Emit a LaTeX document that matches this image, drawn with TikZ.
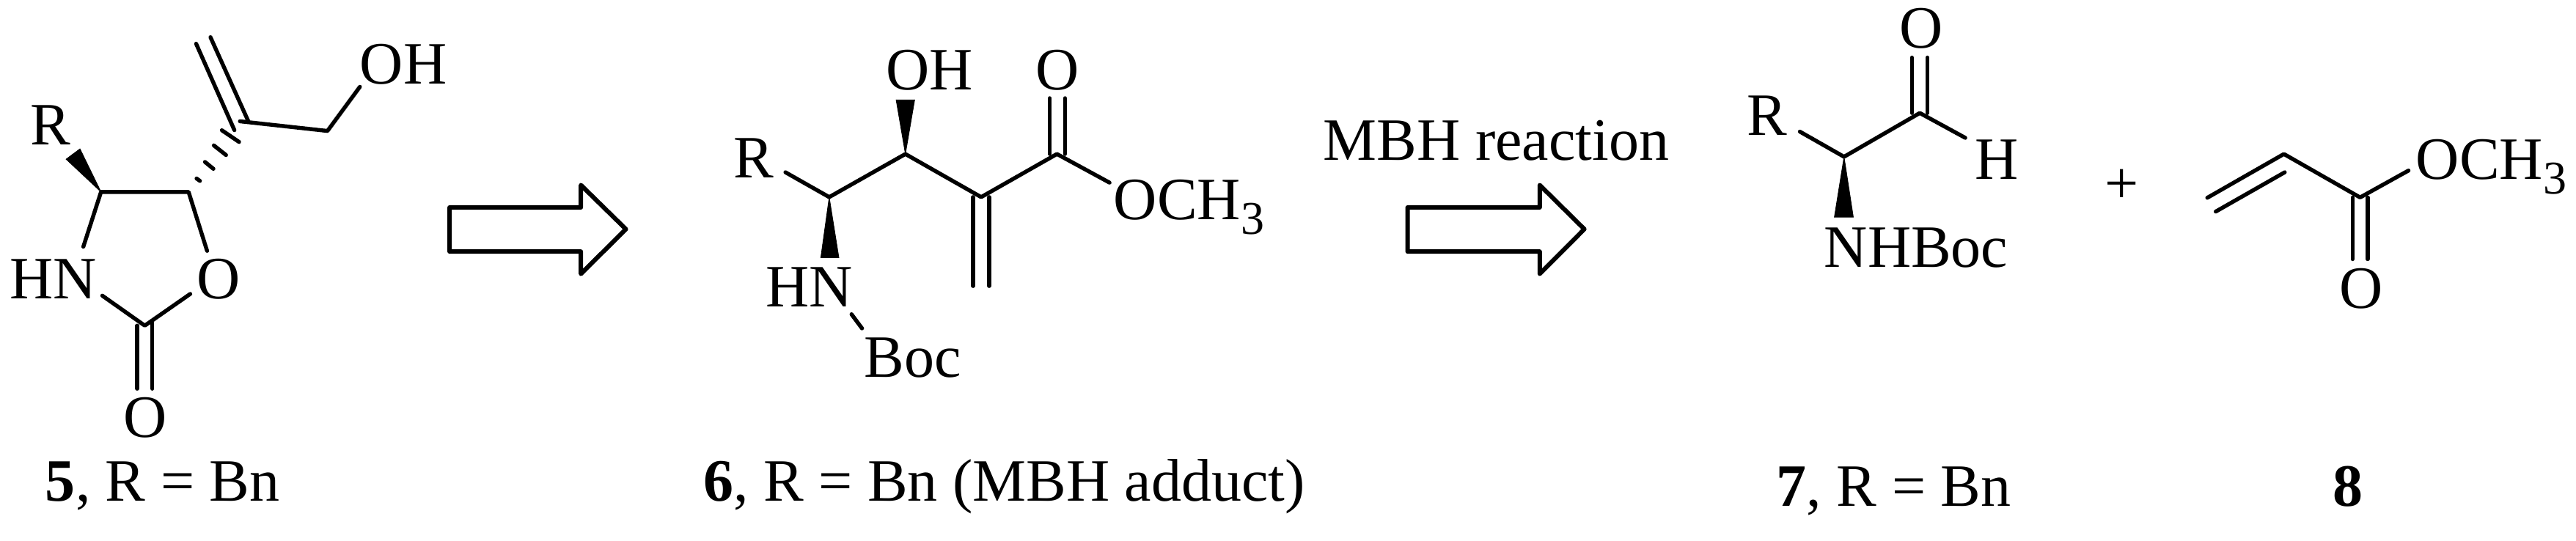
\documentclass[tikz,border=0pt]{standalone}
\usepackage{fontspec}
\setmainfont{Liberation Serif}
\newcommand{\subthree}{\raisebox{-5pt}{\fontsize{16}{16}\selectfont 3}}
\tikzset{
  atom/.style={anchor=base west,inner sep=0pt,outer sep=0pt,font=\fontsize{20.5}{24}\selectfont},
  atomc/.style={anchor=base,inner sep=0pt,outer sep=0pt,font=\fontsize{20.5}{24}\selectfont},
  bond/.style={line width=1.35pt,line cap=round,line join=round},
  hash/.style={line width=1.35pt,line cap=round},
  wedge/.style={fill=black,draw=black,line width=0.2pt,line join=miter},
  bigarrow/.style={draw=black,line width=1.5pt,line join=round,fill=white}
}
\begin{document}
\begin{tikzpicture}[x=0.14350pt,y=-0.11751pt]
\path[use as bounding box,fill=white] (0,0) rectangle (6120,1568);

% ---------- compound 5 ----------
\node[atom] (Ra) at (72,420) {R};
\node[atom] (HNa) at (24,866) {HN};
\node[atom] (Oa) at (467,866) {O};
\node[atomc] (Ob) at (345,1270) {O};
\node[atom] (OHa) at (855,243) {OH};
\node[atom] (capa) at (108,1455) {\textbf{5}, R = Bn};
\coordinate (a4) at (240,557);
\coordinate (a5) at (448,557);
\coordinate (a2) at (344,945);
\coordinate (aNt) at (198,716);
\coordinate (aOt) at (492,728);
\coordinate (aNb) at (243,858);
\coordinate (aOb) at (452,853);
\coordinate (aw1) at (157,462);
\coordinate (aw2) at (190,432);
\coordinate (av) at (570,352);
\coordinate (av1) at (590,352);
\coordinate (av2) at (557,378);
\coordinate (at1) at (466,127);
\coordinate (at2) at (500,108);
\coordinate (ach) at (778,380);
\coordinate (aohe) at (855,252);
\coordinate (aco1) at (326,945);
\coordinate (aco2) at (362,935);
\coordinate (aco1e) at (326,1128);
\coordinate (aco2e) at (362,1128);
\fill[wedge] (a4) -- (aw1) -- (aw2) -- cycle;
\draw[bond] (aNt) -- (a4) -- (a5) -- (aOt);
\draw[bond] (aNb) -- (a2) -- (aOb);
\draw[bond] (aco1) -- (aco1e);
\draw[bond] (aco2) -- (aco2e);
\draw[bond] (at1) -- (av2);
\draw[bond] (at2) -- (av1);
\draw[bond] (av) -- (ach) -- (aohe);
\draw[hash] (467,518) -- (475,525);
\draw[hash] (487,470) -- (507,490);
\draw[hash] (508,422) -- (537,450);
\draw[hash] (527,378) -- (568,412);

% ---------- retro arrow 1 ----------
\draw[bigarrow] (1068,602) -- (1380,602) -- (1380,537) -- (1487,665) -- (1380,795) -- (1380,730) -- (1068,730) -- cycle;

% ---------- compound 6 ----------
\node[atom] (Rc) at (1743,515) {R};
\node[atom] (OHc) at (2105,260) {OH};
\node[atomc] (Oc) at (2513,260) {O};
\node[atom] (OMec) at (2646,638) {OCH\subthree};
\node[atom] (HNc) at (1820,890) {HN};
\node[atom] (Bocc) at (2053,1095) {Boc};
\node[atom] (capc) at (1671,1455) {\textbf{6}, R = Bn (MBH adduct)};
\coordinate (c1) at (1970,572);
\coordinate (c2) at (2151,447);
\coordinate (c3) at (2331,572);
\coordinate (c4) at (2511,447);
\coordinate (cR) at (1866,500);
\coordinate (cOMe) at (2636,530);
\coordinate (cw1) at (2129,290);
\coordinate (cw2) at (2173,290);
\coordinate (cw3) at (1950,748);
\coordinate (cw4) at (1993,748);
\coordinate (cco1) at (2494,447);
\coordinate (cco2) at (2530,447);
\coordinate (cco1e) at (2494,285);
\coordinate (cco2e) at (2530,285);
\coordinate (cdb1) at (2312,572);
\coordinate (cdb2) at (2350,572);
\coordinate (cdb1e) at (2312,830);
\coordinate (cdb2e) at (2350,830);
\coordinate (cNb) at (2023,912);
\coordinate (cBoc) at (2048,953);
\fill[wedge] (c2) -- (cw1) -- (cw2) -- cycle;
\fill[wedge] (c1) -- (cw3) -- (cw4) -- cycle;
\draw[bond] (cR) -- (c1) -- (c2) -- (c3) -- (c4) -- (cOMe);
\draw[bond] (cco1) -- (cco1e);
\draw[bond] (cco2) -- (cco2e);
\draw[bond] (cdb1) -- (cdb1e);
\draw[bond] (cdb2) -- (cdb2e);
\draw[bond] (cNb) -- (cBoc);

% ---------- arrow 2 with label ----------
\node[atom] (mbh) at (3144,465) {MBH reaction};
\draw[bigarrow] (3344,602) -- (3658,602) -- (3658,537) -- (3764,665) -- (3658,795) -- (3658,730) -- (3344,730) -- cycle;

% ---------- compound 7 ----------
\node[atom] (Rd) at (4151,393) {R};
\node[atomc] (Od) at (4564,140) {O};
\node[atom] (Hd) at (4692,520) {H};
\node[atom] (NHd) at (4334,775) {NHBoc};
\node[atom] (capd) at (4221,1468) {\textbf{7}, R = Bn};
\coordinate (d1) at (4381,455);
\coordinate (d2) at (4561,328);
\coordinate (dR) at (4276,382);
\coordinate (dH) at (4669,400);
\coordinate (dw1) at (4358,630);
\coordinate (dw2) at (4403,630);
\coordinate (dco1) at (4542,328);
\coordinate (dco2) at (4579,328);
\coordinate (dco1e) at (4542,167);
\coordinate (dco2e) at (4579,167);
\fill[wedge] (d1) -- (dw1) -- (dw2) -- cycle;
\draw[bond] (dR) -- (d1) -- (d2) -- (dH);
\draw[bond] (dco1) -- (dco1e);
\draw[bond] (dco2) -- (dco2e);

% ---------- plus ----------
\node[atomc] (plus) at (5041,590) {+};

% ---------- compound 8 ----------
\node[atom] (OMee) at (5740,520) {OCH\subthree};
\node[atomc] (Oe) at (5609,895) {O};
\node[atomc] (cape) at (5579,1468) {\textbf{8}};
\coordinate (e0) at (5244,574);
\coordinate (e1) at (5426,447);
\coordinate (e2) at (5607,573);
\coordinate (eO) at (5722,495);
\coordinate (ei1) at (5264,614);
\coordinate (ei2) at (5428,500);
\coordinate (eco1) at (5589,573);
\coordinate (eco2) at (5625,573);
\coordinate (eco1e) at (5589,752);
\coordinate (eco2e) at (5625,752);
\draw[bond] (e0) -- (e1) -- (e2) -- (eO);
\draw[bond] (ei1) -- (ei2);
\draw[bond] (eco1) -- (eco1e);
\draw[bond] (eco2) -- (eco2e);
\end{tikzpicture}
\end{document}
